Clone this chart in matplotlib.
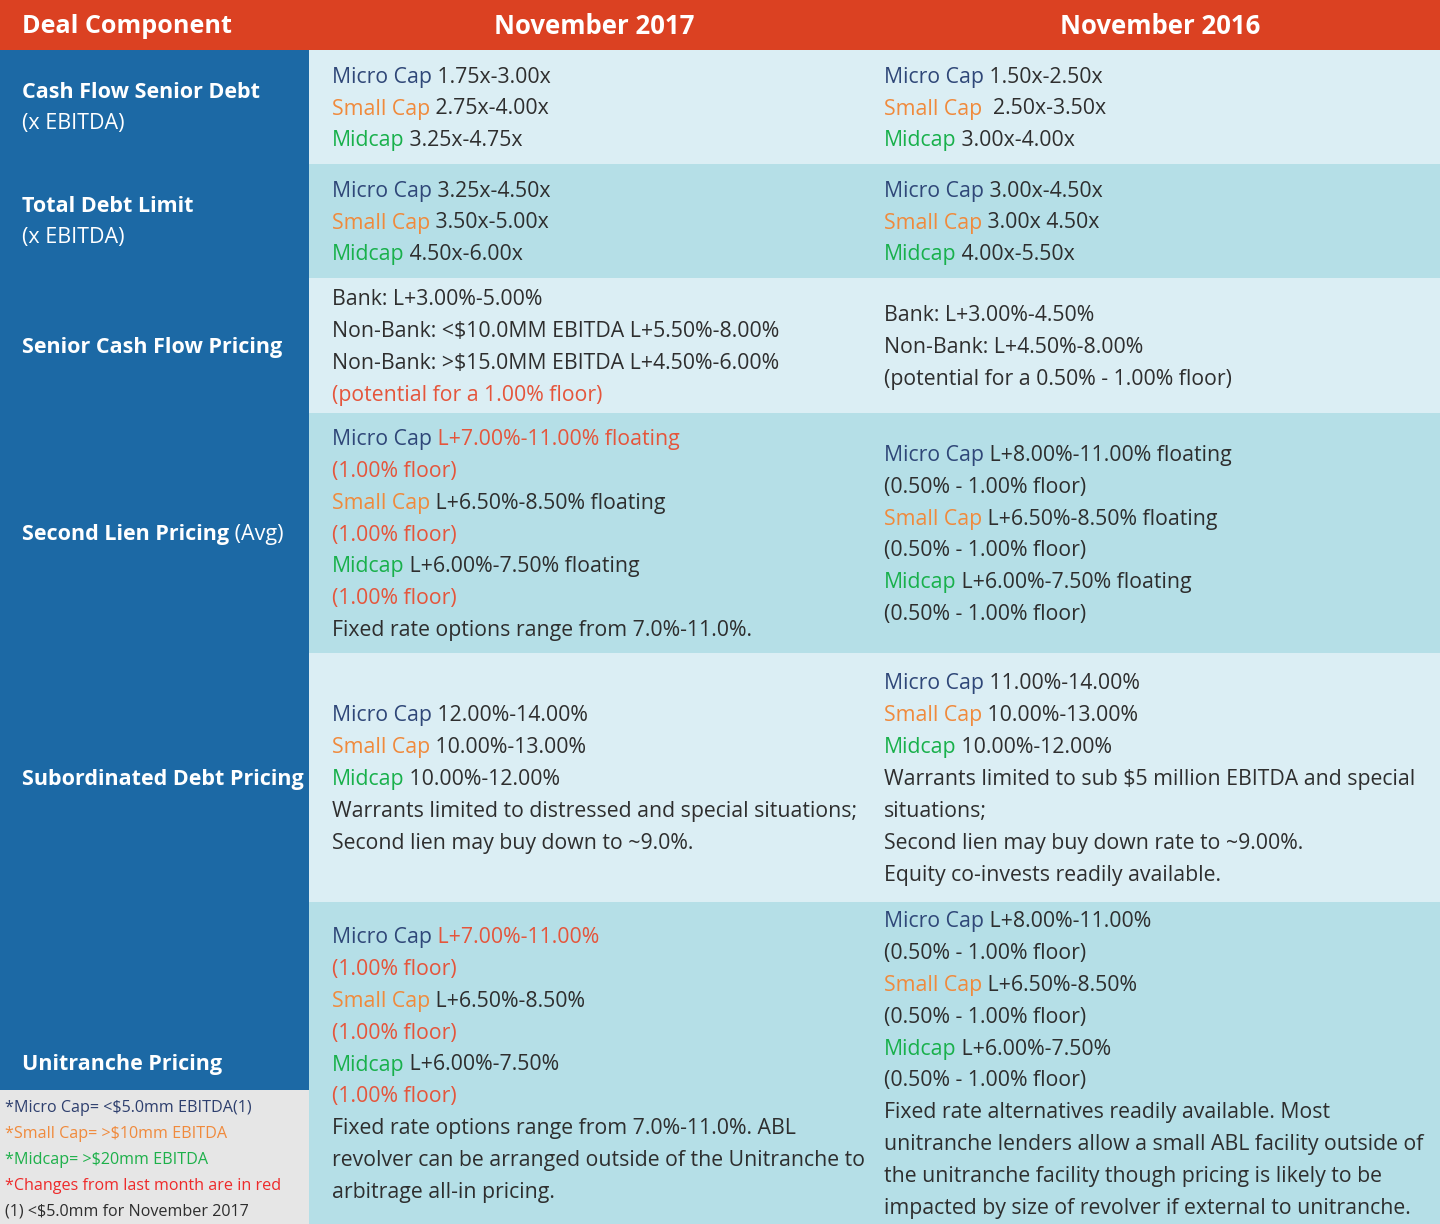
import matplotlib
matplotlib.use("Agg")
import matplotlib.pyplot as plt
from matplotlib.patches import Rectangle

# --- colours ---
COLORS = {
    'm': '#2F4778',   # micro cap
    's': '#F08A3C',   # small cap
    'd': '#18B04B',   # midcap
    'r': '#E5553B',   # changes
    'k': '#2E2E2E',   # body text
    'w': '#FFFFFF',
}
HEADER_BG = '#DB4122'
LEFT_BG = '#1C69A5'
ROW_BG = ['#DBEEF4', '#B5DFE7']
NOTE_BG = '#E6E6E6'
FONT = ['Open Sans', 'DejaVu Sans']

# --- table content ---
HEADERS = ["Deal Component", "November 2017", "November 2016"]

ROW_LABELS = [
    [[("Cash Flow Senior Debt", 'bold')], [("(x EBITDA)", 'normal')]],
    [[("Total Debt Limit", 'bold')], [("(x EBITDA)", 'normal')]],
    [[("Senior Cash Flow Pricing", 'bold')]],
    [[("Second Lien Pricing", 'bold'), (" (Avg)", 'normal')]],
    [[("Subordinated Debt Pricing", 'bold')]],
    [[("Unitranche Pricing", 'bold')]],
]

NOV_2017 = [
    [[("Micro Cap", 'm'), (" 1.75x-3.00x", 'k')],
     [("Small Cap", 's'), (" 2.75x-4.00x", 'k')],
     [("Midcap", 'd'), (" 3.25x-4.75x", 'k')]],
    [[("Micro Cap", 'm'), (" 3.25x-4.50x", 'k')],
     [("Small Cap", 's'), (" 3.50x-5.00x", 'k')],
     [("Midcap", 'd'), (" 4.50x-6.00x", 'k')]],
    [[("Bank: L+3.00%-5.00%", 'k')],
     [("Non-Bank: <$10.0MM EBITDA L+5.50%-8.00%", 'k')],
     [("Non-Bank: >$15.0MM EBITDA L+4.50%-6.00%", 'k')],
     [("(potential for a 1.00% floor)", 'r')]],
    [[("Micro Cap", 'm'), (" L+7.00%-11.00% floating", 'r')],
     [("(1.00% floor)", 'r')],
     [("Small Cap", 's'), (" L+6.50%-8.50% floating", 'k')],
     [("(1.00% floor)", 'r')],
     [("Midcap", 'd'), (" L+6.00%-7.50% floating", 'k')],
     [("(1.00% floor)", 'r')],
     [("Fixed rate options range from 7.0%-11.0%.", 'k')]],
    [[("Micro Cap", 'm'), (" 12.00%-14.00%", 'k')],
     [("Small Cap", 's'), (" 10.00%-13.00%", 'k')],
     [("Midcap", 'd'), (" 10.00%-12.00%", 'k')],
     [("Warrants limited to distressed and special situations;", 'k')],
     [("Second lien may buy down to ~9.0%.", 'k')]],
    [[("Micro Cap", 'm'), (" L+7.00%-11.00%", 'r')],
     [("(1.00% floor)", 'r')],
     [("Small Cap", 's'), (" L+6.50%-8.50%", 'k')],
     [("(1.00% floor)", 'r')],
     [("Midcap", 'd'), (" L+6.00%-7.50%", 'k')],
     [("(1.00% floor)", 'r')],
     [("Fixed rate options range from 7.0%-11.0%. ABL", 'k')],
     [("revolver can be arranged outside of the Unitranche to", 'k')],
     [("arbitrage all-in pricing.", 'k')]],
]

NOV_2016 = [
    [[("Micro Cap", 'm'), (" 1.50x-2.50x", 'k')],
     [("Small Cap", 's'), ("  2.50x-3.50x", 'k')],
     [("Midcap", 'd'), (" 3.00x-4.00x", 'k')]],
    [[("Micro Cap", 'm'), (" 3.00x-4.50x", 'k')],
     [("Small Cap", 's'), (" 3.00x 4.50x", 'k')],
     [("Midcap", 'd'), (" 4.00x-5.50x", 'k')]],
    [[("Bank: L+3.00%-4.50%", 'k')],
     [("Non-Bank: L+4.50%-8.00%", 'k')],
     [("(potential for a 0.50% - 1.00% floor)", 'k')]],
    [[("Micro Cap", 'm'), (" L+8.00%-11.00% floating", 'k')],
     [("(0.50% - 1.00% floor)", 'k')],
     [("Small Cap", 's'), (" L+6.50%-8.50% floating", 'k')],
     [("(0.50% - 1.00% floor)", 'k')],
     [("Midcap", 'd'), (" L+6.00%-7.50% floating", 'k')],
     [("(0.50% - 1.00% floor)", 'k')]],
    [[("Micro Cap", 'm'), (" 11.00%-14.00%", 'k')],
     [("Small Cap", 's'), (" 10.00%-13.00%", 'k')],
     [("Midcap", 'd'), (" 10.00%-12.00%", 'k')],
     [("Warrants limited to sub $5 million EBITDA and special", 'k')],
     [("situations;", 'k')],
     [("Second lien may buy down rate to ~9.00%.", 'k')],
     [("Equity co-invests readily available.", 'k')]],
    [[("Micro Cap", 'm'), (" L+8.00%-11.00%", 'k')],
     [("(0.50% - 1.00% floor)", 'k')],
     [("Small Cap", 's'), (" L+6.50%-8.50%", 'k')],
     [("(0.50% - 1.00% floor)", 'k')],
     [("Midcap", 'd'), (" L+6.00%-7.50%", 'k')],
     [("(0.50% - 1.00% floor)", 'k')],
     [("Fixed rate alternatives readily available. Most", 'k')],
     [("unitranche lenders allow a small ABL facility outside of", 'k')],
     [("the unitranche facility though pricing is likely to be", 'k')],
     [("impacted by size of revolver if external to unitranche.", 'k')]],
]

FOOTNOTES = [
    ("*Micro Cap= <$5.0mm EBITDA(1)", '#2E3F6E'),
    ("*Small Cap= >$10mm EBITDA", '#F08A3C'),
    ("*Midcap= >$20mm EBITDA", '#1DB04A'),
    ("*Changes from last month are in red", '#EE2A2A'),
    ("(1) <$5.0mm for November 2017", '#2E2E2E'),
]

# --- layout (pixels) ---
W, H = 1440, 1224
HEADER_H = 50
ROW_EDGES = [50, 164, 278, 413, 653, 902, 1224]
LEFT_W = 309
COL_X = [22, 332, 884]
LINE_H = 31.9
LABEL_LINE_H = 31
NOTE_TOP = 1090
BODY_SIZE = 15.3
LABEL_SIZE = 15.5
HEAD_SIZE = 18.5
NOTE_SIZE = 11.6

fig = plt.figure(figsize=(W / 100, H / 100), dpi=100)
ax = fig.add_axes([0, 0, 1, 1])
ax.set_xlim(0, W)
ax.set_ylim(H, 0)
ax.axis('off')
renderer = fig.canvas.get_renderer()


def draw_segments(x, y, segs, size, color_of, weight_of):
    for txt, key in segs:
        t = ax.text(x, y, txt, fontsize=size, color=color_of(key),
                    weight=weight_of(key), family=FONT, va='baseline',
                    ha='left', parse_math=False)
        x += t.get_window_extent(renderer).width


# backgrounds
ax.add_patch(Rectangle((0, 0), W, HEADER_H, color=HEADER_BG, lw=0))
for i in range(len(ROW_EDGES) - 1):
    y0, y1 = ROW_EDGES[i], ROW_EDGES[i + 1]
    ax.add_patch(Rectangle((LEFT_W, y0), W - LEFT_W, y1 - y0,
                           color=ROW_BG[i % 2], lw=0))
ax.add_patch(Rectangle((0, HEADER_H), LEFT_W, NOTE_TOP - HEADER_H,
                       color=LEFT_BG, lw=0))
ax.add_patch(Rectangle((0, NOTE_TOP), LEFT_W, H - NOTE_TOP,
                       color=NOTE_BG, lw=0))

# header
ax.text(COL_X[0], HEADER_H / 2 + 1.5, HEADERS[0], fontsize=HEAD_SIZE - 0.4,
        color='white', weight='bold', family=FONT, va='center', ha='left')
ax.text(594, HEADER_H / 2 + 1.5, HEADERS[1], fontsize=HEAD_SIZE,
        color='white', weight='bold', family=FONT, va='center', ha='center')
ax.text(1160, HEADER_H / 2 + 1.5, HEADERS[2], fontsize=HEAD_SIZE,
        color='white', weight='bold', family=FONT, va='center', ha='center')

# rows
for i in range(len(ROW_LABELS)):
    yc = (ROW_EDGES[i] + ROW_EDGES[i + 1]) / 2

    lab = ROW_LABELS[i]
    top = yc - (len(lab) - 1) * LABEL_LINE_H / 2
    for j, segs in enumerate(lab):
        draw_segments(COL_X[0], top + j * LABEL_LINE_H + 7, segs, LABEL_SIZE,
                      lambda k: 'white', lambda k: k)

    for col, cells in ((1, NOV_2017), (2, NOV_2016)):
        lines = cells[i]
        top = yc - (len(lines) - 1) * LINE_H / 2
        for j, segs in enumerate(lines):
            draw_segments(COL_X[col], top + j * LINE_H + 7.5, segs, BODY_SIZE,
                          lambda k: COLORS[k], lambda k: 'normal')

# footnotes
for j, (txt, c) in enumerate(FOOTNOTES):
    ax.text(5, 1106 + j * 26 + 5.5, txt, fontsize=NOTE_SIZE, color=c,
            family=FONT, va='baseline', ha='left', parse_math=False)

fig.savefig('out.png', dpi=100)
